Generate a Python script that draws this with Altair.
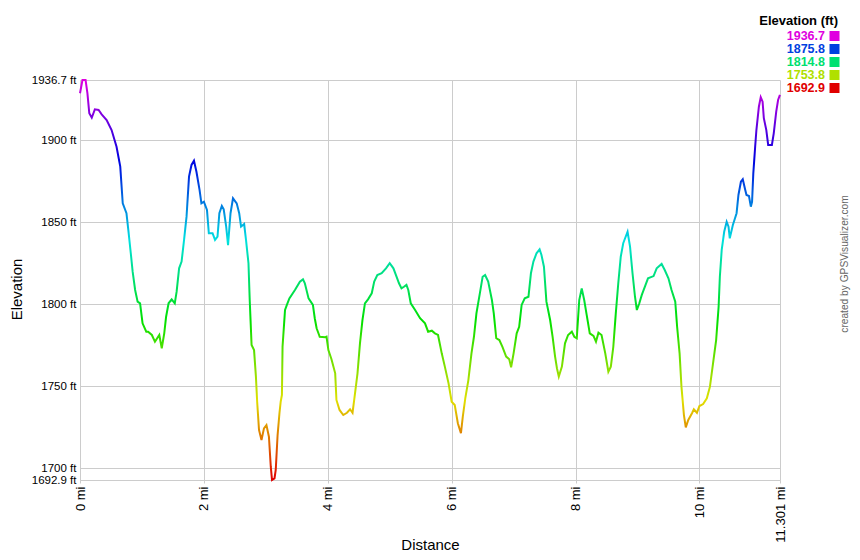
import altair as alt
import pandas as pd

dist_mi = [
    0.00, 0.04, 0.09, 0.12, 0.15, 0.19, 0.24, 0.30, 0.35, 0.43,
    0.51, 0.59, 0.65, 0.69, 0.75, 0.78, 0.82, 0.85, 0.89, 0.93,
    0.97, 1.01, 1.07, 1.10, 1.16, 1.21, 1.28, 1.32, 1.36, 1.39,
    1.43, 1.48, 1.53, 1.56, 1.60, 1.64, 1.68, 1.72, 1.76, 1.80,
    1.84, 1.88, 1.93, 1.96, 2.00, 2.05, 2.08, 2.14, 2.18, 2.22,
    2.25, 2.29, 2.32, 2.36, 2.39, 2.43, 2.47, 2.53, 2.57, 2.60,
    2.65, 2.68, 2.72, 2.74, 2.77, 2.81, 2.84, 2.86, 2.89, 2.93,
    2.97, 3.01, 3.05, 3.08, 3.10, 3.14, 3.16, 3.19, 3.22, 3.24,
    3.26, 3.27, 3.31, 3.34, 3.38, 3.47, 3.55, 3.60, 3.63, 3.69,
    3.76, 3.79, 3.82, 3.86, 3.87, 3.96, 3.98, 4.01, 4.06, 4.12,
    4.14, 4.19, 4.25, 4.31, 4.36, 4.40, 4.44, 4.48, 4.52, 4.56,
    4.60, 4.65, 4.71, 4.75, 4.80, 4.87, 4.94, 5.00, 5.06, 5.11,
    5.15, 5.19, 5.23, 5.27, 5.30, 5.34, 5.41, 5.49, 5.57, 5.62,
    5.68, 5.73, 5.78, 5.84, 5.89, 5.95, 6.00, 6.05, 6.10, 6.15,
    6.18, 6.22, 6.27, 6.32, 6.36, 6.40, 6.46, 6.50, 6.54, 6.59,
    6.65, 6.68, 6.72, 6.77, 6.82, 6.88, 6.93, 6.96, 7.00, 7.05,
    7.09, 7.13, 7.18, 7.24, 7.28, 7.32, 7.37, 7.42, 7.45, 7.49,
    7.53, 7.59, 7.63, 7.67, 7.70, 7.73, 7.78, 7.83, 7.88, 7.94,
    7.98, 8.02, 8.06, 8.10, 8.14, 8.18, 8.23, 8.29, 8.33, 8.37,
    8.42, 8.48, 8.53, 8.57, 8.61, 8.65, 8.69, 8.73, 8.77, 8.84,
    8.88, 8.92, 8.96, 8.99, 9.03, 9.07, 9.12, 9.17, 9.26, 9.31,
    9.39, 9.44, 9.50, 9.55, 9.61, 9.64, 9.68, 9.71, 9.75, 9.78,
    9.82, 9.88, 9.91, 9.96, 10.00, 10.06, 10.12, 10.17, 10.22, 10.27,
    10.31, 10.33, 10.36, 10.40, 10.44, 10.47, 10.49, 10.54, 10.60, 10.63,
    10.67, 10.70, 10.74, 10.76, 10.80, 10.83, 10.85, 10.87, 10.90, 10.92,
    10.96, 10.99, 11.02, 11.04, 11.08, 11.11, 11.17, 11.20, 11.24, 11.27, 11.30,
]

elev_ft = [
    1928.6, 1936.7, 1936.7, 1928.6, 1916.4, 1913.7, 1918.8, 1918.4, 1915.8, 1912.3,
    1906.2, 1896.0, 1883.9, 1861.5, 1855.5, 1845.3, 1831.1, 1819.9, 1808.7, 1801.6,
    1800.6, 1788.4, 1783.3, 1783.3, 1781.3, 1777.2, 1781.3, 1773.2, 1782.3, 1792.4,
    1800.6, 1803.0, 1800.6, 1807.7, 1821.9, 1826.0, 1839.2, 1853.4, 1877.8, 1884.9,
    1887.5, 1880.8, 1869.7, 1861.5, 1862.5, 1857.5, 1843.3, 1843.3, 1839.2, 1841.2,
    1855.5, 1859.9, 1857.9, 1847.3, 1836.1, 1855.5, 1864.6, 1861.5, 1855.5, 1847.3,
    1848.9, 1839.2, 1825.0, 1802.6, 1775.2, 1772.1, 1755.9, 1740.6, 1723.4, 1717.3,
    1724.4, 1726.4, 1719.3, 1701.0, 1692.9, 1693.9, 1699.0, 1720.3, 1733.6, 1740.6,
    1744.7, 1774.1, 1796.5, 1799.6, 1803.6, 1808.7, 1813.8, 1815.2, 1812.8, 1803.6,
    1799.6, 1791.5, 1785.4, 1781.3, 1780.2, 1779.9, 1780.2, 1772.1, 1766.5, 1757.9,
    1741.7, 1735.6, 1732.5, 1733.9, 1736.0, 1733.9, 1745.7, 1757.9, 1776.2, 1790.4,
    1800.6, 1803.0, 1806.7, 1813.8, 1817.8, 1818.9, 1821.9, 1825.0, 1821.9, 1816.8,
    1812.8, 1809.7, 1810.7, 1811.8, 1808.7, 1800.6, 1796.5, 1791.5, 1788.4, 1783.3,
    1783.9, 1782.3, 1781.3, 1770.1, 1762.0, 1751.8, 1740.6, 1738.6, 1727.5, 1721.4,
    1731.5, 1742.7, 1753.8, 1770.1, 1780.2, 1794.5, 1807.7, 1816.8, 1817.8, 1813.8,
    1802.6, 1794.5, 1779.3, 1778.2, 1774.1, 1768.1, 1766.5, 1761.6, 1770.1, 1782.3,
    1786.3, 1799.6, 1803.6, 1804.6, 1818.9, 1826.0, 1831.1, 1833.5, 1830.0, 1822.9,
    1801.6, 1790.4, 1780.2, 1768.1, 1761.0, 1755.9, 1762.0, 1776.2, 1781.3, 1783.3,
    1780.2, 1779.3, 1802.6, 1809.7, 1802.6, 1793.5, 1782.3, 1780.7, 1777.2, 1782.7,
    1781.3, 1770.1, 1758.9, 1762.0, 1774.1, 1794.5, 1812.8, 1829.0, 1837.2, 1844.2,
    1835.1, 1818.9, 1804.6, 1796.5, 1800.6, 1805.7, 1810.7, 1815.8, 1817.2, 1821.9,
    1824.6, 1820.9, 1815.8, 1808.7, 1801.6, 1786.3, 1770.1, 1749.8, 1732.5, 1725.0,
    1729.5, 1733.6, 1736.0, 1733.9, 1738.0, 1739.2, 1742.7, 1749.8, 1764.0, 1778.2,
    1798.5, 1816.8, 1833.1, 1844.2, 1850.3, 1847.3, 1840.2, 1848.3, 1855.5, 1866.6,
    1874.7, 1876.2, 1869.7, 1866.6, 1866.0, 1859.5, 1862.5, 1879.8, 1896.0, 1906.2,
    1920.4, 1926.2, 1923.5, 1913.4, 1906.2, 1897.1, 1897.1, 1904.2, 1917.4, 1924.5, 1927.6,
]

y_ticks = [1692.9, 1700, 1750, 1800, 1850, 1900, 1936.7]
x_ticks = [0, 2, 4, 6, 8, 10, 11.301]
y_domain = [1692.9, 1936.7]
x_domain = [0, 11.301]

legend_values = [1936.7, 1875.8, 1814.8, 1753.8, 1692.9]
legend_colors = ["#e000e0", "#0040e0", "#00e070", "#b0e000", "#e00000"]
gradient_colors = ["#e00000", "#e0e000", "#00e000", "#00e0e0", "#0000e0", "#e000e0"]

FONT = "Liberation Sans, Arial, sans-serif"
GRID = "#cccccc"

profile = pd.DataFrame({"dist": dist_mi, "elev": elev_ft})
legend_df = pd.DataFrame({
    "value": legend_values,
    "color": legend_colors,
    "row": list(range(len(legend_values))),
})

grad = alt.Gradient(
    gradient="linear",
    stops=[alt.GradientStop(color=c, offset=i / (len(gradient_colors) - 1))
           for i, c in enumerate(gradient_colors)],
    x1=0, x2=0, y1=1, y2=0,
)

line = alt.Chart(profile).mark_line(color=grad, strokeWidth=2).encode(
    x=alt.X(
        "dist:Q",
        scale=alt.Scale(domain=x_domain, nice=False, zero=False),
        axis=alt.Axis(
            values=x_ticks, format=".3~f", labelExpr="datum.label + ' mi'",
            title="Distance", titleX=350, titleY=69, titleBaseline="alphabetic",
            titleAlign="center",
            labelAngle=270, labelAlign="right", labelBaseline="middle",
            labelPadding=3, labelFontSize=13, labelFlush=False, labelOverlap=False,
            tickSize=3, tickColor=GRID,
        ),
    ),
    y=alt.Y(
        "elev:Q",
        scale=alt.Scale(domain=y_domain, nice=False, zero=False),
        axis=alt.Axis(
            values=y_ticks, format=".1~f", labelExpr="datum.label + ' ft'",
            title="Elevation", titleX=-64, titleY=209, titleBaseline="middle",
            titleAlign="center", titleAngle=270,
            labelFontSize=11.5, labelPadding=4, labelFlush=False, labelOverlap=False,
            ticks=False,
        ),
    ),
)

legend_title = alt.Chart(alt.Data(values=[{"t": "Elevation (ft)"}])).mark_text(
    font=FONT, fontSize=13, fontWeight="bold", align="right", baseline="middle",
    color="#000000",
).encode(x=alt.value(758), y=alt.value(-59), text="t:N")

legend_text = alt.Chart(legend_df).transform_calculate(
    py="-44 + datum.row * 13"
).mark_text(
    font=FONT, fontSize=12.5, fontWeight="bold", align="right", baseline="middle",
).encode(
    x=alt.value(745),
    y=alt.Y("py:Q", scale=None, axis=None),
    text=alt.Text("value:Q", format=".1f"),
    color=alt.Color("color:N", scale=None, legend=None),
)

legend_sq = alt.Chart(legend_df).transform_calculate(
    py="-44 + datum.row * 13"
).mark_point(shape="square", filled=True, size=100, opacity=1, strokeWidth=0).encode(
    x=alt.value(754.5),
    y=alt.Y("py:Q", scale=None, axis=None),
    color=alt.Color("color:N", scale=None, legend=None),
)

credit = alt.Chart(alt.Data(values=[{"t": "created by GPSVisualizer.com"}])).mark_text(
    font=FONT, fontSize=10.2, color="#666666", angle=270, align="center",
    baseline="middle",
).encode(x=alt.value(765), y=alt.value(184), text="t:N")

chart = alt.layer(line, legend_title, legend_text, legend_sq, credit).properties(
    width=700,
    height=400,
    autosize=alt.AutoSizeParams(type="none"),
    padding={"left": 72, "top": 72, "right": 72, "bottom": 72},
    background="#ffffff",
).configure_view(
    strokeWidth=0,
).configure_axis(
    labelFont=FONT, titleFont=FONT, labelColor="#000000", titleColor="#000000",
    titleFontSize=15, titleFontWeight="normal",
    gridColor=GRID, gridWidth=1, domainColor=GRID, domainWidth=1,
)

chart.save("out.html", embed_options={"renderer": "svg", "actions": False})
